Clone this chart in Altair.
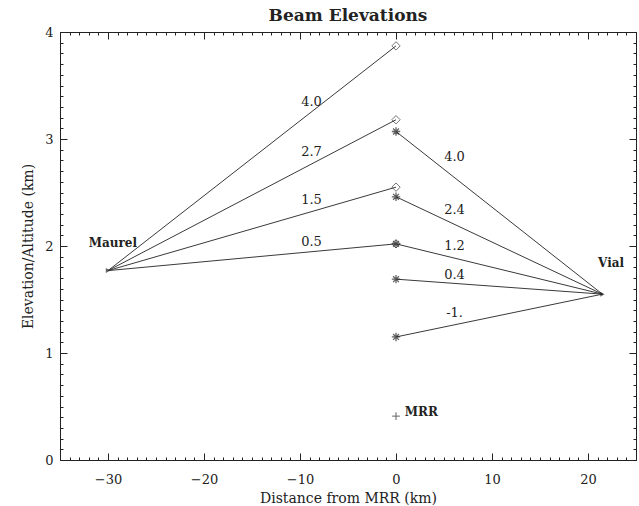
import altair as alt
import pandas as pd

# Sites
maurel_x, maurel_y = -30.0, 1.77
vial_x, vial_y = 21.5, 1.55
mrr_x, mrr_y = 0.0, 0.41

# Maurel beams (elevation angle labels, height reached above MRR)
left_elev = ["4.0", "2.7", "1.5", "0.5"]
left_top = [3.87, 3.18, 2.55, 2.02]
left_label_x = -8.8
left_label_y = [3.35, 2.88, 2.43, 2.04]

# Vial beams
right_elev = ["4.0", "2.4", "1.2", "0.4", "-1."]
right_top = [3.07, 2.46, 2.02, 1.69, 1.15]
right_label_x = 6.1
right_label_y = [2.83, 2.34, 2.00, 1.73, 1.37]

site_names = ["Maurel", "Vial"]
site_label_x = [-29.5, 22.4]
site_label_y = [2.03, 1.84]
mrr_name = "MRR"
mrr_label_x, mrr_label_y = 0.9, 0.45

FONT = "DejaVu Serif"
LINE = "#3a3a3a"
INK = "#222222"

rows = []
for e, t in zip(left_elev, left_top):
    rows.append({"beam": "L" + e, "x": maurel_x, "y": maurel_y})
    rows.append({"beam": "L" + e, "x": 0.0, "y": t})
for e, t in zip(right_elev, right_top):
    rows.append({"beam": "R" + e, "x": 0.0, "y": t})
    rows.append({"beam": "R" + e, "x": vial_x, "y": vial_y})
lines_df = pd.DataFrame(rows)

left_pts = pd.DataFrame({"x": [0.0] * len(left_top), "y": left_top})
right_pts = pd.DataFrame({"x": [0.0] * len(right_top), "y": right_top})
sites_df = pd.DataFrame({"x": [maurel_x, vial_x], "y": [maurel_y, vial_y]})
mrr_df = pd.DataFrame({"x": [mrr_x], "y": [mrr_y]})
labels_df = pd.DataFrame({
    "x": [left_label_x] * len(left_elev) + [right_label_x] * len(right_elev),
    "y": left_label_y + right_label_y,
    "t": left_elev + right_elev,
})
sites_lab = pd.DataFrame({"x": site_label_x, "y": site_label_y, "t": site_names})
mrr_lab = pd.DataFrame({"x": [mrr_label_x], "y": [mrr_label_y], "t": [mrr_name]})

xs = alt.Scale(domain=[-35, 25], nice=False, zero=False)
ys = alt.Scale(domain=[0, 4], nice=False, zero=False)

x_major = [-30, -20, -10, 0, 10, 20]
x_minor = list(range(-35, 26))
y_major = [0, 1, 2, 3, 4]
y_minor = [round(v * 0.1, 1) for v in range(0, 41)]

main_x = alt.Axis(values=x_major, tickSize=0, labelPadding=13, domain=False, grid=False,
                  title="Distance from MRR (km)", titlePadding=5, format="d")
main_y = alt.Axis(values=y_major, tickSize=0, labelPadding=7, domain=False, grid=False,
                  title="Elevation/Altitude (km)", titlePadding=9, format="d")

lines = alt.Chart(lines_df).mark_line(color=LINE, strokeWidth=1).encode(
    x=alt.X("x:Q", scale=xs, axis=main_x),
    y=alt.Y("y:Q", scale=ys, axis=main_y),
    detail="beam:N",
)


def tick_layer(orient_x, orient_y, vals_x, vals_y, size):
    ax = alt.Axis(orient=orient_x, values=vals_x, tickSize=size, offset=-size, labels=False,
                  domain=False, grid=False, title=None, tickColor=INK, tickWidth=1)
    ay = alt.Axis(orient=orient_y, values=vals_y, tickSize=size, offset=-size, labels=False,
                  domain=False, grid=False, title=None, tickColor=INK, tickWidth=1)
    return alt.Chart(sites_df).mark_point(opacity=0).encode(
        x=alt.X("x:Q", scale=xs, axis=ax),
        y=alt.Y("y:Q", scale=ys, axis=ay),
    )


t1 = tick_layer("bottom", "left", x_major, y_major, 7)
t2 = tick_layer("bottom", "left", x_minor, y_minor, 3)
t3 = tick_layer("top", "right", x_major, y_major, 7)
t4 = tick_layer("top", "right", x_minor, y_minor, 3)


def enc(c):
    return c.encode(x=alt.X("x:Q", scale=xs, axis=None), y=alt.Y("y:Q", scale=ys, axis=None))


diamonds = enc(alt.Chart(left_pts).mark_point(shape="diamond", filled=False, color=LINE,
                                              size=70, strokeWidth=1))

ASTER = "M-1,0L1,0M0,-1L0,1M-0.7,-0.7L0.7,0.7M-0.7,0.7L0.7,-0.7"
stars = enc(alt.Chart(right_pts).mark_point(shape=ASTER, filled=False, color=INK, size=70,
                                            strokeWidth=1.3))

site_marks = enc(alt.Chart(sites_df).mark_point(shape="triangle-right", filled=True,
                                                color=INK, size=25))

mrr_mark = enc(alt.Chart(mrr_df).mark_point(shape="M-1,0L1,0M0,-1L0,1", filled=False,
                                            color=INK, size=60, strokeWidth=1))

beam_text = alt.Chart(labels_df).mark_text(font=FONT, fontSize=13, color=INK,
                                           align="center", baseline="middle").encode(
    x=alt.X("x:Q", scale=xs, axis=None), y=alt.Y("y:Q", scale=ys, axis=None), text="t:N")

site_text = alt.Chart(sites_lab).mark_text(font=FONT, fontSize=12, color=INK,
                                           align="center", baseline="middle",
                                           fontWeight="bold").encode(
    x=alt.X("x:Q", scale=xs, axis=None), y=alt.Y("y:Q", scale=ys, axis=None), text="t:N")

mrr_text = alt.Chart(mrr_lab).mark_text(font=FONT, fontSize=12, color=INK,
                                        align="left", baseline="middle",
                                        fontWeight="bold").encode(
    x=alt.X("x:Q", scale=xs, axis=None), y=alt.Y("y:Q", scale=ys, axis=None), text="t:N")

chart = alt.layer(
    lines, t1, t2, t3, t4, diamonds, stars, site_marks, mrr_mark, beam_text, site_text, mrr_text
).resolve_axis(x="independent", y="independent").properties(
    width=576, height=428,
    title=alt.TitleParams("Beam Elevations", font=FONT, fontSize=17, fontWeight="bold",
                          color=INK, offset=1),
    autosize=alt.AutoSizeParams(type="none"),
    padding={"left": 60, "top": 32, "right": 3, "bottom": 46},
    background="white",
).configure_view(stroke=INK, strokeWidth=1).configure_axis(
    labelFont=FONT, labelFontSize=13, labelColor=INK, titleFont=FONT, titleFontSize=14,
    titleColor=INK, titleFontWeight="normal"
)

chart.save("out.html", embed_options={"renderer": "svg", "actions": False})
